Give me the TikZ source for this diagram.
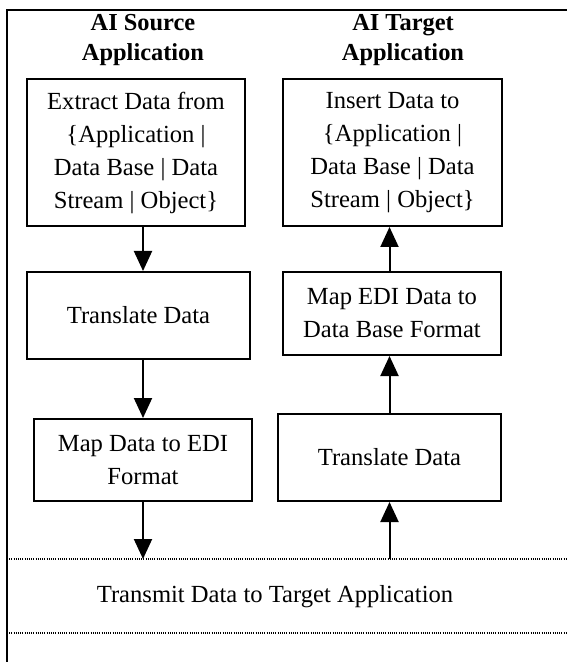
\documentclass[tikz,border=0pt]{standalone}
\usepackage{fontspec}
\setmainfont{Liberation Serif}
\usetikzlibrary{arrows.meta}

\tikzset{
  stage/.style={draw, line width=1pt, align=center, inner sep=2pt,
    font=\fontsize{12.3}{16.5}\selectfont},
  head/.style={align=center, font=\fontsize{12.2}{15}\selectfont\bfseries},
  flow/.style={line width=1pt, -{Triangle[width=9pt,length=10pt]}},
  sep/.style={line width=0.6pt, dash pattern=on 0.5pt off 0.6pt}
}

\begin{document}
\begin{tikzpicture}[x=0.5pt, y=-0.5pt]
  \useasboundingbox (0,0) rectangle (567,662);

  % frame
  \draw[line width=1pt] (7,662) -- (7,10) -- (567,10);

  % column headings
  \node[head] (src) at (143,40) {AI Source\\Application};
  \node[head] (tgt) at (403,40) {AI Target\\Application};

  % source side
  \node[stage, minimum width=109pt, minimum height=73.5pt] (ext) at (136,152.5)
    {Extract Data from\\\{Application |\\Data Base | Data\\Stream | Object\}};
  \node[stage, minimum width=111.5pt, minimum height=43.5pt] (trl) at (138.5,315.5)
    {Translate Data};
  \node[stage, minimum width=109pt, minimum height=41pt] (mapl) at (143,460)
    {Map Data to EDI\\Format};

  % target side
  \node[stage, minimum width=109.5pt, minimum height=73.5pt] (ins) at (392.5,152.5)
    {Insert Data to\\\{Application |\\Data Base | Data\\Stream | Object\}};
  \node[stage, minimum width=109pt, minimum height=41.5pt] (mapr) at (392,313.5)
    {Map EDI Data to\\Data Base Format};
  \node[stage, minimum width=111.5pt, minimum height=43.5pt] (trr) at (389.5,457.5)
    {Translate Data};

  % transmission band
  \coordinate (bandtop) at (7,559);
  \coordinate (bandbot) at (7,633);
  \draw[sep] (bandtop) -- (567,559);
  \draw[sep] (bandbot) -- (567,633);
  \node[font=\fontsize{12.3}{15}\selectfont] (tx) at (275,597)
    {Transmit Data to Target Application};

  % arrows
  \draw[flow] (ext.south -| mapl) -- (trl.north -| mapl);
  \draw[flow] (trl.south -| mapl) -- (mapl.north);
  \draw[flow] (mapl.south) -- (bandtop -| mapl);
  \draw[flow] (bandtop -| trr) -- (trr.south);
  \draw[flow] (trr.north) -- (mapr.south -| trr);
  \draw[flow] (mapr.north -| trr) -- (ins.south -| trr);
\end{tikzpicture}
\end{document}
